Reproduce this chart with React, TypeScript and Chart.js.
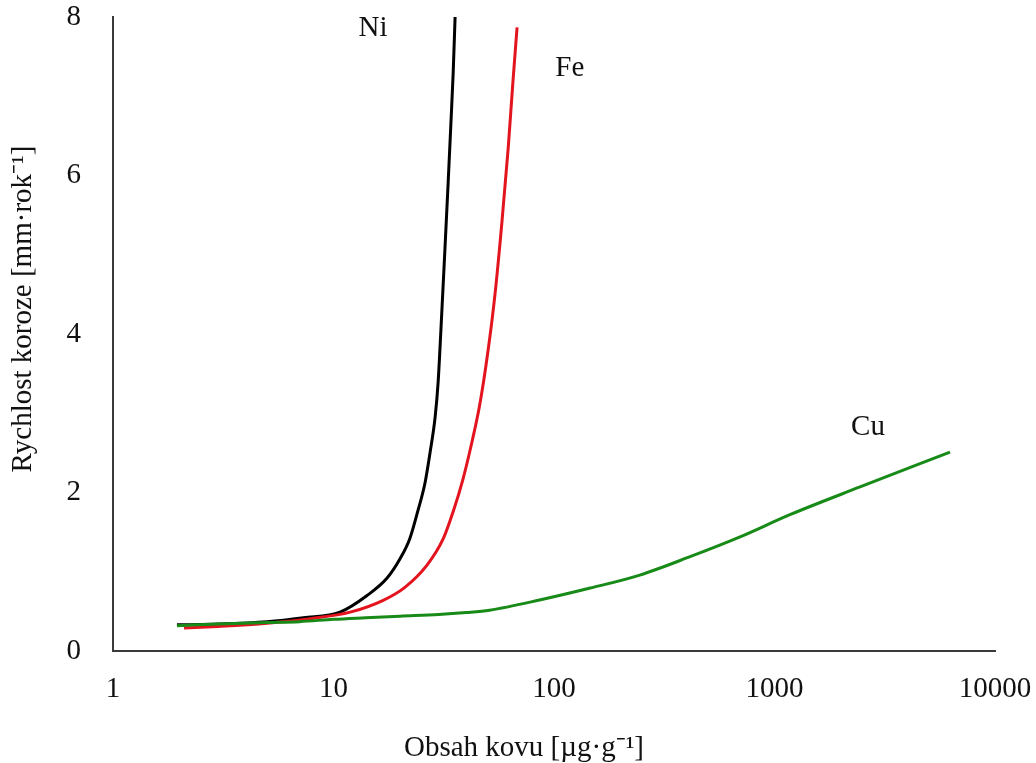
import React, { useEffect, useRef } from "react";
import { Chart, registerables } from "chart.js";

Chart.register(...registerables);

// Ni (black)
const niX = [1.95, 3, 5, 7.3, 10.7, 14.2, 17.5, 20.0, 22.2, 24.2, 26.0, 27.4, 28.9, 29.8, 30.7, 32.0, 33.1, 34.0, 34.9, 35.6];
const niY = [0.33, 0.34, 0.37, 0.42, 0.49, 0.70, 0.92, 1.16, 1.42, 1.78, 2.12, 2.5, 2.95, 3.38, 4.05, 5.06, 5.9, 6.6, 7.3, 8.0];

// Fe (red)
const feX = [2.1, 3, 5, 8, 11.9, 16.8, 21.0, 26.5, 31.5, 35.0, 38.5, 42.0, 46.0, 50.0, 54.0, 58.0, 62.0, 65.0, 68.0];
const feY = [0.29, 0.31, 0.35, 0.41, 0.49, 0.64, 0.8, 1.08, 1.42, 1.77, 2.15, 2.58, 3.1, 3.75, 4.5, 5.4, 6.35, 7.15, 7.87];

// Cu (green)
const cuX = [1.95, 3, 5, 7, 10, 14, 20, 30, 40, 51, 86, 146, 245, 414, 698, 1175, 2443, 6250];
const cuY = [0.32, 0.34, 0.36, 0.37, 0.4, 0.42, 0.44, 0.46, 0.485, 0.515, 0.643, 0.794, 0.958, 1.19, 1.44, 1.72, 2.07, 2.51];

const xTicks = [1, 10, 100, 1000, 10000];

const seriesLabels = ["Ni", "Fe", "Cu"];
const seriesLabelX = [15.1, 118, 2655];
const seriesLabelY = [7.86, 7.35, 2.82];

const xTitle = "Obsah kovu [µg·g⁻¹]";
const yTitle = "Rychlost koroze [mm·rok⁻¹]";

const FONT = "'Liberation Serif', 'Times New Roman', serif";
const FS = 29;

const toPoints = (xs: number[], ys: number[]) => xs.map((x, i) => ({ x, y: ys[i] }));

const textPlugin = {
  id: "texts",
  afterDatasetsDraw(chart: any) {
    const { ctx, scales } = chart;
    ctx.save();
    ctx.font = `${FS}px ${FONT}`;
    ctx.fillStyle = "#111";
    ctx.textAlign = "center";
    ctx.textBaseline = "middle";
    seriesLabels.forEach((t, i) => {
      ctx.fillText(t, scales.x.getPixelForValue(seriesLabelX[i]), scales.y.getPixelForValue(seriesLabelY[i]));
    });
    // axis titles
    ctx.fillText(xTitle, 524, 748);
    ctx.translate(23, 309);
    ctx.rotate(-Math.PI / 2);
    ctx.fillText(yTitle, 0, 0);
    ctx.restore();
  },
};

export default function App() {
  const ref = useRef<HTMLCanvasElement>(null);
  useEffect(() => {
    if (!ref.current) return;
    const chart = new Chart(ref.current, {
      type: "scatter",
      data: {
        datasets: [
          { label: "Cu", data: toPoints(cuX, cuY), borderColor: "#178a17", borderWidth: 3 },
          { label: "Fe", data: toPoints(feX, feY), borderColor: "#e3141e", borderWidth: 3 },
          { label: "Ni", data: toPoints(niX, niY), borderColor: "#000000", borderWidth: 3 },
        ].map((d) => ({
          ...d,
          showLine: true,
          pointRadius: 0,
          pointHoverRadius: 0,
          cubicInterpolationMode: "monotone" as const,
        })),
      },
      options: {
        responsive: false,
        animation: false,
        events: [],
        layout: { padding: { left: 0, top: 17, right: 41, bottom: 0 } },
        plugins: { legend: { display: false }, tooltip: { enabled: false } },
        scales: {
          x: {
            type: "logarithmic",
            min: 1,
            max: 10000,
            afterBuildTicks: (scale: any) => {
              scale.ticks = xTicks.map((v) => ({ value: v }));
            },
            afterFit: (scale: any) => {
              scale.height = 112;
              scale.paddingLeft = 0;
              scale.paddingRight = 0;
            },
            grid: { display: false, drawTicks: false },
            border: { display: true, color: "#3a3a3a", width: 2 },
            ticks: {
              color: "#111",
              font: { family: FONT, size: FS },
              padding: 21,
              autoSkip: false,
              maxRotation: 0,
              callback: (v: any) => String(v),
            },
          },
          y: {
            min: 0,
            max: 8,
            afterFit: (scale: any) => {
              scale.width = 113;
              scale.paddingTop = 0;
              scale.paddingBottom = 0;
            },
            grid: { display: false, drawTicks: false },
            border: { display: true, color: "#3a3a3a", width: 2 },
            ticks: {
              stepSize: 2,
              color: "#111",
              font: { family: FONT, size: FS },
              padding: 32,
            },
          },
        },
      },
      plugins: [textPlugin],
    });
    return () => chart.destroy();
  }, []);
  return (
    <div style={{ position: "fixed", left: 0, top: 0, width: 1036, height: 763, background: "#fff" }}>
      <canvas ref={ref} width={1036} height={763} />
    </div>
  );
}
